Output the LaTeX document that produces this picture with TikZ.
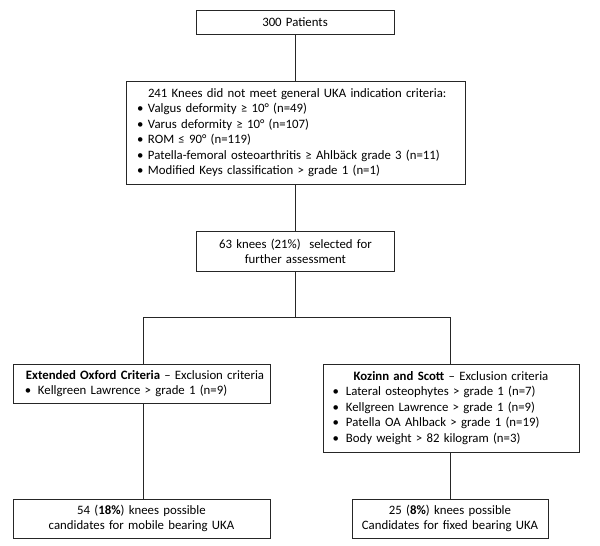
\documentclass[tikz,border=0pt]{standalone}
\usepackage{fontspec}
\setmainfont{Carlito}
\begin{document}
\begin{tikzpicture}[x=1bp,y=-1bp,
  box/.style={draw=black!85, line width=0.9bp, inner ysep=0pt, inner xsep=0pt,
    font=\fontsize{12.8bp}{15.5bp}\selectfont},
  conn/.style={draw=black!85, line width=0.9bp}]
\useasboundingbox[fill=white] (0,0) rectangle (600,546);

\node[box, minimum width=198bp, minimum height=23.3bp, align=center, text width=198bp]
  (p) at (295,22.4) {300 Patients};

\node[box, minimum width=339bp, minimum height=103.3bp, inner xsep=11bp, text width=317bp, align=left]
  (k) at (295.5,132.9) {\hspace*{11bp}241 Knees did not meet general UKA indication criteria:\\
  \makebox[11bp][l]{•}Valgus deformity ≥ 10° (n=49)\\
  \makebox[11bp][l]{•}Varus deformity ≥ 10° (n=107)\\
  \makebox[11bp][l]{•}ROM ≤ 90° (n=119)\\
  \makebox[11bp][l]{•}Patella-femoral osteoarthritis ≥ Ahlbäck grade 3 (n=11)\\
  \makebox[11bp][l]{•}Modified Keys classification > grade 1 (n=1)};

\node[box, minimum width=197.5bp, minimum height=39.3bp, align=center, text width=197.5bp]
  (s) at (295.4,251.4) {63 knees (21\%)\ \ selected for\\further assessment};

\node[box, minimum width=257bp, minimum height=39.5bp, inner xsep=12bp, text width=233bp, align=left]
  (lb) at (141.5,383.7) {\makebox[233bp][l]{\hspace*{1bp}\textbf{Extended Oxford Criteria} – Exclusion criteria}\\
  \makebox[13bp][l]{•}Kellgreen Lawrence > grade 1 (n=9)};

\node[box, minimum width=256bp, minimum height=88bp, inner xsep=9.5bp, text width=237bp, align=left]
  (rb) at (451,408) {\makebox[237bp][c]{\textbf{Kozinn and Scott} – Exclusion criteria}\\
  \makebox[13.4bp][l]{•}Lateral osteophytes > grade 1 (n=7)\\
  \makebox[13.4bp][l]{•}Kellgreen Lawrence > grade 1 (n=9)\\
  \makebox[13.4bp][l]{•}Patella OA Ahlback > grade 1 (n=19)\\
  \makebox[13.4bp][l]{•}Body weight > 82 kilogram (n=3)};

\node[box, minimum width=257bp, minimum height=39bp, align=center, text width=257bp]
  (fl) at (141.5,518.5) {54 (\textbf{18\%}) knees possible\\candidates for mobile bearing UKA};

\node[box, minimum width=196bp, minimum height=39bp, align=center, text width=196bp]
  (fr) at (450,518.5) {25 (\textbf{8\%}) knees possible\\Candidates for fixed bearing UKA};

\draw[conn] (p.south) -- (p.south |- k.north);
\draw[conn] (k.south) -- (k.south |- s.north);
\draw[conn] (s.south) -- ++(0,46.3) coordinate (j);
\draw[conn] ([xshift=1.5bp]lb.north) |- (j) -| ([xshift=-1bp]rb.north);
\draw[conn] ([xshift=1.5bp]lb.south) -- ([xshift=1.5bp]fl.north);
\draw[conn] (fr.north |- rb.south) -- (fr.north);
\end{tikzpicture}
\end{document}
